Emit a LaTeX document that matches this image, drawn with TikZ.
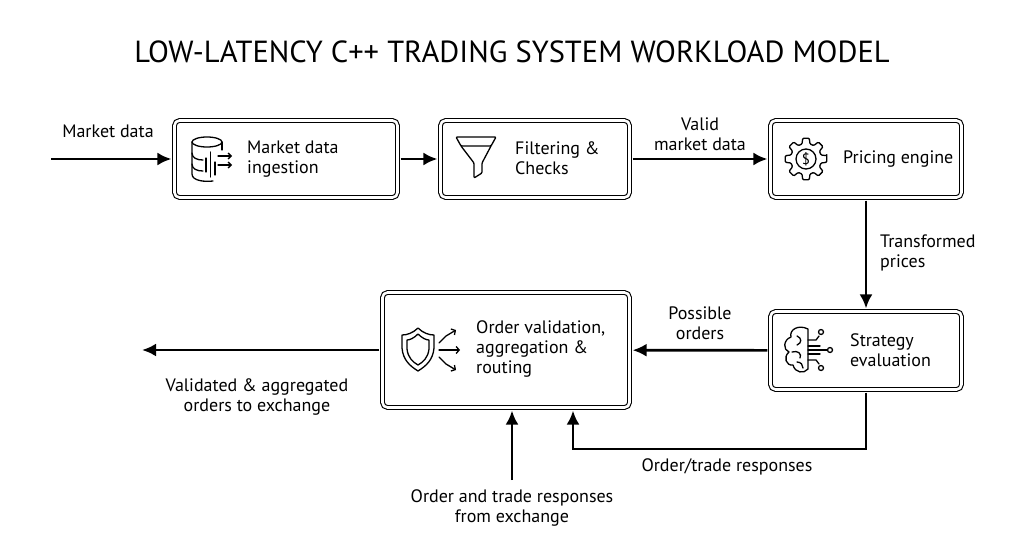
\documentclass[tikz,border=0pt]{standalone}
\usepackage{fontspec}
\setmainfont{PT Sans}
\usetikzlibrary{arrows.meta}

\begin{document}
\begin{tikzpicture}[x=1pt,y=-1pt,
    box/.style={draw,double,double distance=2.6pt,line width=1.1pt,rounded corners=5pt},
    arr/.style={line width=2.7pt,-{Latex[length=14pt,width=13pt]},shorten >=2.5pt,shorten <=2.5pt},
    icon/.style={line width=1.3pt,line join=round,line cap=round},
    txt/.style={font=\fontsize{18}{20}\selectfont,align=left,anchor=west,inner sep=0pt},
    lbl/.style={font=\fontsize{18}{20}\selectfont,align=center,inner sep=0pt}]
    \useasboundingbox (0,0) rectangle (1024,559);

    \node[font=\fontsize{30.5}{32}\selectfont] (title) at (512,52) {LOW-LATENCY C++ TRADING SYSTEM WORKLOAD MODEL};

    \node[box,minimum width=223pt,minimum height=77pt] (ing) at (286,159) {};
    \node[box,minimum width=189pt,minimum height=77pt] (filt) at (535,159) {};
    \node[box,minimum width=191pt,minimum height=77pt] (price) at (866,159) {};
    \node[box,minimum width=191pt,minimum height=78pt] (strat) at (866,350.5) {};
    \node[box,minimum width=247pt,minimum height=115pt] (route) at (506,350) {};

    \node[txt] (ingtext) at (247,159) {Market data\\ingestion};
    \node[txt] (filttext) at (515,158) {Filtering \&\\Checks};
    \node[txt] (pricetext) at (843,159) {Pricing engine};
    \node[txt] (strattext) at (850,350) {Strategy\\evaluation};
    \node[txt] (routetext) at (476,349) {Order validation,\\aggregation \&\\routing};

    % icons
    \begin{scope}[icon]
        \draw (207,142) ellipse (15 and 5);
        \draw (192,142) -- (192,174) .. controls (192,181) and (205,182) .. (213,181);
        \draw (222,142) -- (222,150);
        \draw (192,153) .. controls (192,158) and (197,160) .. (203,160);
        \draw (192,164) .. controls (192,169) and (197,171) .. (203,171);
        \draw (206,158) -- (206,172);
        \draw (210.5,152) -- (210.5,177);
        \draw (215,162) -- (215,175);
        \draw[-{Straight Barb[length=3pt,width=6pt]}] (218,156) -- (232,156);
        \draw[-{Straight Barb[length=3pt,width=6pt]}] (218,165) -- (232,165);

        \draw[rounded corners=1pt] (456,137) -- (496,137) -- (491,146) -- (461,146) -- cycle;
        \draw[rounded corners=1pt] (461,146) -- (474,163) -- (474,178) -- (482,173) -- (482,163) -- (491,146);

        \draw[rounded corners=1pt,shift={(806,159)}] (-9:21) \foreach \a in {0,45,...,315}{ -- (\a-9:21) -- (\a+9:21) -- (\a+15:15.5) -- (\a+30:15.5)} -- cycle;
        \draw (806,159) circle (10);
        \node[font=\fontsize{15}{15}\selectfont,inner sep=0pt] (dollar) at (806,159) {\$};

        \draw (808,329) .. controls (798,324) and (789,330) .. (791,337)
            .. controls (783,340) and (783,350) .. (789,352)
            .. controls (783,357) and (786,366) .. (793,365)
            .. controls (795,373) and (804,374) .. (808,369) -- cycle;
        \draw (797,336) .. controls (802,338) and (802,343) .. (797,345);
        \draw (792,352) .. controls (798,350) and (802,354) .. (800,358);
        \draw (797,362) .. controls (801,362) and (803,365) .. (803,368);
        \draw (808,340) -- (816,340) -- (819,336);
        \draw (821,332) circle (2.5);
        \draw (808,346) -- (820,346);
        \draw (808,350) -- (827,350);
        \draw (830,350) circle (2.5);
        \draw (808,354) -- (820,354);
        \draw (808,360) -- (816,360) -- (819,364);
        \draw (821,368) circle (2.5);

        \draw (418,328) .. controls (413,333) and (407,335) .. (402,335) -- (402,348)
            .. controls (403,360) and (410,366) .. (418,371)
            .. controls (426,366) and (433,360) .. (434,348) -- (434,335)
            .. controls (429,335) and (423,333) .. (418,328) -- cycle;
        \draw (418,334) .. controls (414,338) and (410,340) .. (407,340) -- (407,349)
            .. controls (408,358) and (413,362) .. (418,365)
            .. controls (423,362) and (428,358) .. (429,349) -- (429,340)
            .. controls (426,340) and (422,338) .. (418,334) -- cycle;
        \draw[-{Straight Barb[length=3pt,width=7pt]}] (439,343) -- (446,336) -- (456,330);
        \draw[-{Straight Barb[length=3pt,width=7pt]}] (439,350) -- (460,350);
        \draw[-{Straight Barb[length=3pt,width=7pt]}] (439,357) -- (446,364) -- (456,370);
    \end{scope}

    \coordinate (src) at (51,159);
    \coordinate (out) at (142,350);
    \coordinate (fb) at (573,449);
    \coordinate (exch) at (512,480);

    \draw[arr,shorten <=0pt] (src) -- (ing);
    \draw[arr] (ing) -- (filt);
    \draw[arr] (filt) -- (price);
    \draw[arr] (price) -- (strat);
    \draw[arr] (strat) -- (route);
    \draw[arr,shorten >=0pt] (route) -- (out);
    \draw[arr,rounded corners=0pt] (strat.south) |- (fb) -- (fb |- route.south);
    \draw[arr,shorten <=0pt] (exch) -- (exch |- route.south);

    \node[lbl] (srclabel) at (108,131) {Market data};
    \node[lbl] (validlabel) at (700,134) {Valid\\market data};
    \node[lbl,anchor=west,align=left] (translabel) at (880,253) {Transformed\\prices};
    \node[lbl] (posslabel) at (700,323) {Possible\\orders};
    \node[lbl] (outlabel) at (257,397) {Validated \& aggregated\\orders to exchange};
    \node[lbl] (fblabel) at (727,467) {Order/trade responses};
    \node[lbl] (exchlabel) at (512,508) {Order and trade responses\\from exchange};
\end{tikzpicture}
\end{document}
